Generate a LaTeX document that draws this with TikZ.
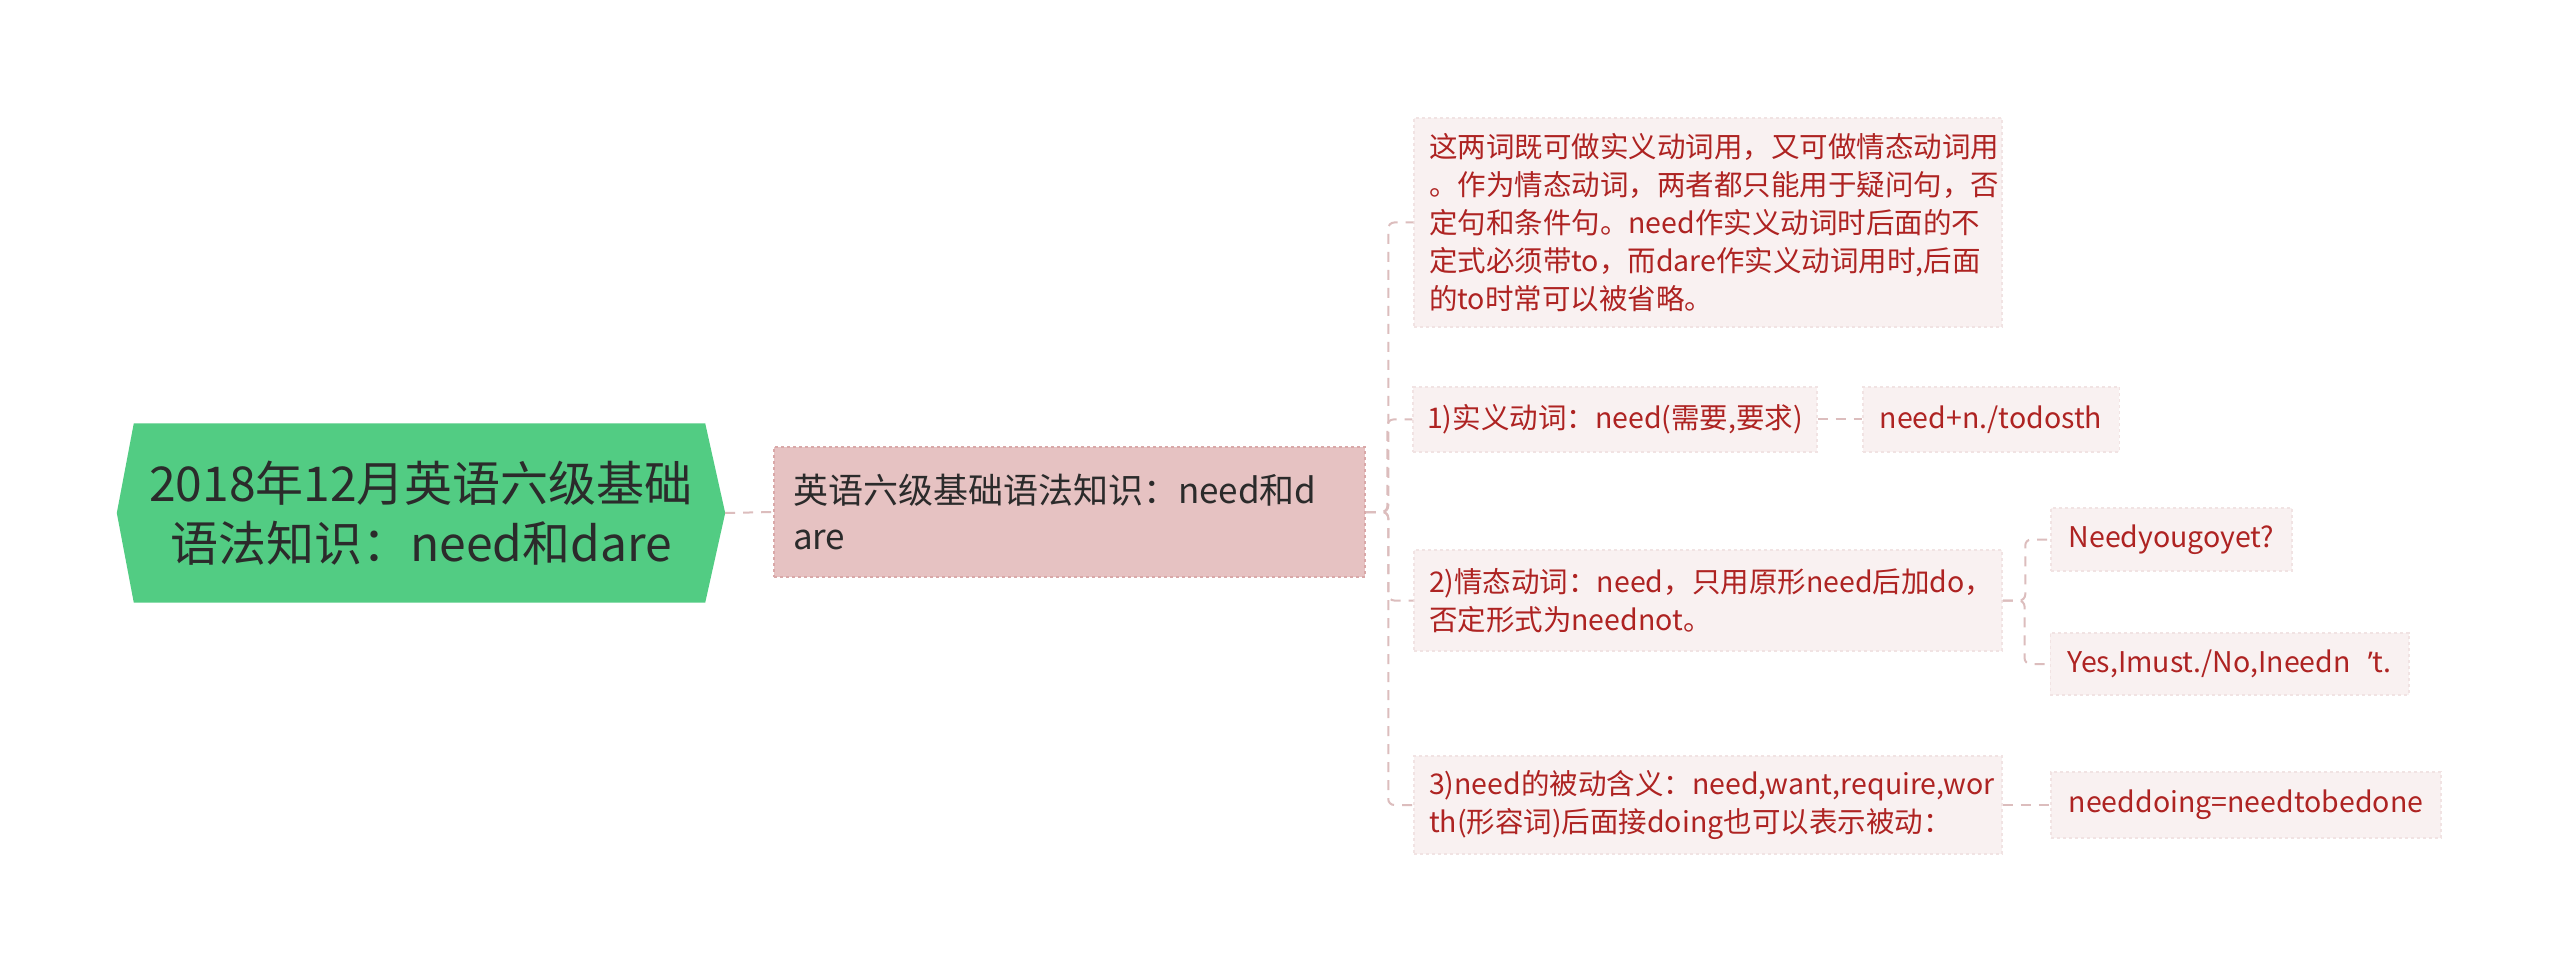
\documentclass[tikz,border=0pt]{standalone}
\usepackage{fontspec}
\setmainfont{Noto Sans CJK SC}
\newfontfamily\latinf{Noto Sans}
\definecolor{rootfill}{HTML}{52CC83}
\definecolor{roottext}{HTML}{2B2B2B}
\definecolor{lonefill}{HTML}{E6C2C2}
\definecolor{loneborder}{HTML}{D9A8A8}
\definecolor{leaffill}{HTML}{F9F1F1}
\definecolor{leafborder}{HTML}{F1E3E3}
\definecolor{leaftext}{HTML}{AE2322}
\definecolor{conncolor}{HTML}{DCBDBD}
\tikzset{
  rootnode/.style={inner sep=0pt, minimum width=608pt, minimum height=179pt, align=center, text=roottext, font=\fontsize{48}{60}\selectfont},
  lonenode/.style={fill=lonefill, draw=loneborder, dashed, line width=1.5pt, inner xsep=19pt, inner ysep=0pt, minimum height=130pt, text width=553pt, align=left, text=roottext, font=\fontsize{35}{46}\selectfont},
  leafnode/.style={fill=leaffill, draw=leafborder, dashed, line width=1.5pt, inner xsep=17pt, inner ysep=0pt, align=left, text=leaftext, font=\fontsize{28.5}{38}\selectfont},
  conn/.style={draw=conncolor, line width=2pt, dash pattern=on 10pt off 8pt, rounded corners=6pt}
}
\begin{document}
\begin{tikzpicture}[x=1pt,y=-1pt]
\fill[white] (0,0) rectangle (2560,973);
\useasboundingbox (0,0) rectangle (2560,973);
% root
\node[rootnode] (root) at (421,513) {};
\fill[rootfill] ([xshift=17pt]root.north west) -- ([xshift=-20pt]root.north east) -- (root.east) -- ([xshift=-20pt]root.south east) -- ([xshift=17pt]root.south west) -- (root.west) -- cycle;
\node[rootnode] at (root.center) {2018年12月英语六级基础\\语法知识：need和dare};
% level 1
\node[lonenode] (L1) at (1069.5,512) {英语六级基础语法知识：need和d\\are};
% level 2
\node[leafnode, inner xsep=15pt, text width=558pt, minimum height=209pt] (c1) at (1708,222.5) {这两词既可做实义动词用，又可做情态动词用\\。作为情态动词，两者都只能用于疑问句，否\\定句和条件句。need作实义动词时后面的不\\定式必须带to，而dare作实义动词用时,后面\\的to时常可以被省略。};
\node[leafnode, inner xsep=14pt, minimum width=402pt, minimum height=65pt] (c2) at (1615,419.5) {1)实义动词：need(需要,要求)};
\node[leafnode, minimum width=256pt, minimum height=65pt] (c2c) at (1991,419.5) {need+n./todosth};
\node[leafnode, inner xsep=15pt, text width=558pt, minimum height=101pt] (c3) at (1708,600.5) {2)情态动词：need，只用原形need后加do，\\否定形式为neednot。};
\node[leafnode, minimum width=241pt, minimum height=63pt] (c3a) at (2171.5,539.5) {Needyougoyet?};
\node[leafnode, minimum width=357pt, minimum height=62pt] (c3b) at (2229.5,664) {Yes,Imust./No,Ineedn\hspace{0.6em}{\latinf ’}t.};
\node[leafnode, inner xsep=15pt, text width=558pt, minimum height=98pt] (c4) at (1708,805) {3)need的被动含义：need,want,require,wor\\th(形容词)后面接doing也可以表示被动：};
\node[leafnode, minimum width=390pt, minimum height=66pt] (c4c) at (2246,805) {needdoing=needtobedone};
% connectors
\draw[conn] (root.east) -- (L1.west);
\draw[conn] (L1.east) -| ([xshift=-25pt]c1.west) -- (c1.west);
\draw[conn] (L1.east) -| ([xshift=-25pt]c2.west) -- (c2.west);
\draw[conn] (L1.east) -| ([xshift=-25pt]c3.west) -- (c3.west);
\draw[conn] (L1.east) -| ([xshift=-25pt]c4.west) -- (c4.west);
\draw[conn] (c2.east) -- (c2c.west);
\draw[conn] (c3.east) -| ([xshift=-25pt]c3a.west) -- (c3a.west);
\draw[conn] (c3.east) -| ([xshift=-25pt]c3b.west) -- (c3b.west);
\draw[conn] (c4.east) -- (c4c.west);
\end{tikzpicture}
\end{document}
